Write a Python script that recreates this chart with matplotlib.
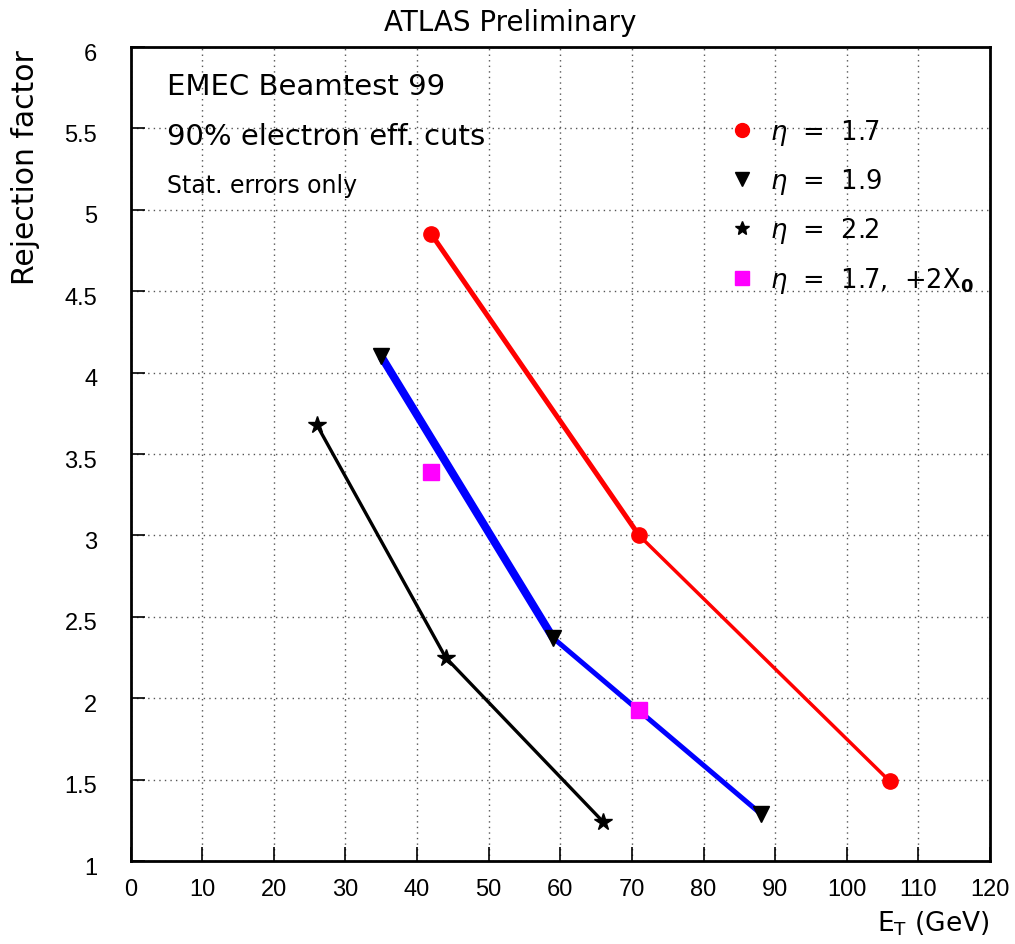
import matplotlib
matplotlib.use("Agg")
import matplotlib.pyplot as plt
import matplotlib.transforms as mtransforms
from matplotlib.lines import Line2D

plt.rcParams['font.family'] = ['DejaVu Sans']
plt.rcParams['mathtext.fontset'] = 'dejavusans'

# Rejection factor vs transverse energy for each eta configuration
et_17 = [42, 71, 106]
rej_17 = [4.85, 3.00, 1.49]

et_19 = [35, 59, 88]
rej_19 = [4.10, 2.37, 1.29]

et_22 = [26, 44, 66]
rej_22 = [3.68, 2.25, 1.24]

et_17x0 = [42, 71]
rej_17x0 = [3.39, 1.93]

x_ticks = [0, 10, 20, 30, 40, 50, 60, 70, 80, 90, 100, 110, 120]
y_ticks = [1, 1.5, 2, 2.5, 3, 3.5, 4, 4.5, 5, 5.5, 6]
y_tick_labels = ['1', '1.5', '2', '2.5', '3', '3.5', '4', '4.5', '5', '5.5', '6']

fig = plt.figure(figsize=(10.15, 9.45), dpi=100)
ax = fig.add_axes([0.1286, 0.0878, 0.8468, 0.8614])

ax.set_xlim(0, 120)
ax.set_ylim(1, 6)
ax.set_xticks(x_ticks)
ax.set_yticks(y_ticks)
ax.set_yticklabels(y_tick_labels)
ax.tick_params(direction='in', length=10, width=1.2)
ax.tick_params(axis='y', pad=24)
ax.tick_params(axis='x', pad=12)
for lab in ax.get_xticklabels() + ax.get_yticklabels():
    lab.set_family(['Liberation Sans', 'DejaVu Sans'])
    lab.set_fontsize(17)
shift = mtransforms.ScaledTranslation(0, -4 / 100, fig.dpi_scale_trans)
for lab in ax.get_yticklabels():
    lab.set_transform(lab.get_transform() + shift)

ax.grid(True, linestyle=(0, (1, 3)), color='#555555', linewidth=1.0)
for s in ax.spines.values():
    s.set_linewidth(2)

# Connecting lines: the first segment of each curve is drawn heavier
def draw_curve(xs, ys, color, widths):
    for i in range(len(xs) - 1):
        ax.plot(xs[i:i + 2], ys[i:i + 2], color=color, lw=widths[i],
                solid_capstyle='butt', zorder=3)

draw_curve(et_17, rej_17, 'red', [3.6, 2.5])
draw_curve(et_19, rej_19, 'blue', [5.8, 3.6])
draw_curve(et_22, rej_22, 'black', [2.4, 2.4])

ax.plot(et_17, rej_17, 'o', color='red', ms=11, zorder=4)
ax.plot(et_19, rej_19, 'v', color='black', ms=12, zorder=4)
ax.plot(et_22, rej_22, '*', color='black', ms=13, zorder=4)
ax.plot(et_17x0, rej_17x0, 's', color='magenta', ms=12, mec='magenta', zorder=4)

handles = [
    Line2D([], [], ls='none', marker='o', color='red', ms=10),
    Line2D([], [], ls='none', marker='v', color='black', ms=10),
    Line2D([], [], ls='none', marker='*', color='black', ms=10),
    Line2D([], [], ls='none', marker='s', color='magenta', ms=10),
]
labels = [r'$\eta$  =  1.7', r'$\eta$  =  1.9', r'$\eta$  =  2.2',
          r'$\eta$  =  1.7,  +2X$_\mathbf{0}$']
ax.legend(handles, labels, loc='upper left', bbox_to_anchor=(0.684, 0.927),
          frameon=False, fontsize=18.5, handlelength=1.0, handletextpad=0.6,
          labelspacing=0.75, borderaxespad=0)

ax.text(0.043, 0.952, 'EMEC Beamtest 99', transform=ax.transAxes, fontsize=21, va='center')
ax.text(0.043, 0.891, '90% electron eff. cuts', transform=ax.transAxes, fontsize=21, va='center')
ax.text(0.043, 0.830, 'Stat. errors only', transform=ax.transAxes, fontsize=17, va='center')

fig.text(0.503, 0.976, 'ATLAS Preliminary', ha='center', va='center', fontsize=20)
fig.text(0.025, 0.823, 'Rejection factor', rotation=90, ha='center', va='center', fontsize=21.5)
fig.text(0.975, 0.022, r'E$_\mathrm{T}$ (GeV)', ha='right', va='center', fontsize=19)

fig.savefig('out.png', dpi=100)
